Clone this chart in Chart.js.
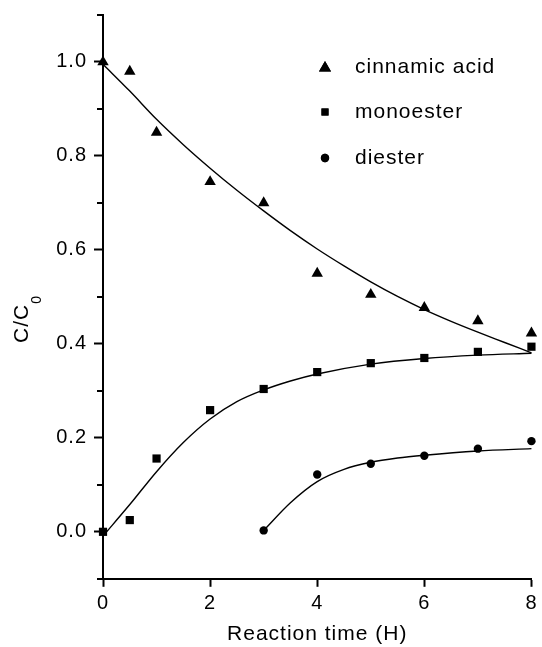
<!DOCTYPE html>
<html>
<head>
<meta charset="utf-8">
<script src="https://cdn.jsdelivr.net/npm/chart.js@4.4.1/dist/chart.umd.min.js"></script>
<style>
html, body { margin: 0; padding: 0; background: #fff; }
</style>
</head>
<body>
<canvas id="chart" width="542" height="647"></canvas>
<script>
// measured points
var timeH = [0, 0.5, 1, 2, 3, 4, 5, 6, 7, 8];
var cinnamicAcid = [1.0, 0.98, 0.85, 0.745, 0.70, 0.55, 0.505, 0.477, 0.449, 0.423];
var monoester = [0.0, 0.025, 0.156, 0.259, 0.304, 0.340, 0.359, 0.370, 0.383, 0.394];
var diesterTime = [3, 4, 5, 6, 7, 8];
var diester = [0.003, 0.122, 0.145, 0.162, 0.177, 0.193];

// fitted curves
var fitTime = [0, 0.5, 1, 1.5, 2, 2.5, 3, 3.5, 4, 4.5, 5, 5.5, 6, 6.5, 7, 7.5, 8];
var cinnamicFit = [0.995, 0.938, 0.878, 0.824, 0.774, 0.727, 0.683, 0.641, 0.602, 0.566, 0.532, 0.501, 0.473, 0.448, 0.425, 0.403, 0.381];
var monoFitTime = [0, 0.5, 1, 1.5, 2, 2.5, 3, 3.5, 4, 5, 6, 7, 8];
var monoFit = [-0.009, 0.058, 0.128, 0.190, 0.240, 0.277, 0.302, 0.321, 0.336, 0.357, 0.369, 0.376, 0.380];
var diFitTime = [3, 3.5, 4, 4.5, 5, 5.5, 6, 7, 8];
var diFit = [0.003, 0.062, 0.107, 0.133, 0.148, 0.157, 0.163, 0.172, 0.177];

var seriesNames = ['cinnamic acid', 'monoester', 'diester'];
var yTitle = 'C/C';
var yTitleSub = '0';
var xTitle = 'Reaction time (H)';

var FONT = '"Liberation Sans", Arial, sans-serif';

function pts(xs, ys) {
    return xs.map(function(x, i) { return { x: x, y: ys[i] }; });
}

function markerSet(label, xs, ys, style, radius) {
    return {
        label: label,
        data: pts(xs, ys),
        showLine: false,
        pointStyle: style,
        pointRadius: radius,
        pointBackgroundColor: '#000',
        pointBorderColor: '#000',
        pointBorderWidth: 0,
        clip: false
    };
}

function fitSet(xs, ys) {
    return {
        label: 'fit',
        data: pts(xs, ys),
        showLine: true,
        pointRadius: 0,
        borderColor: '#000',
        borderWidth: 1.4,
        cubicInterpolationMode: 'monotone',
        clip: false
    };
}

var textPlugin = {
    id: 'sideText',
    beforeDraw: function(chart) {
        chart.ctx.letterSpacing = '1px';
    },
    afterDraw: function(chart) {
        var ctx = chart.ctx;
        ctx.save();
        ctx.fillStyle = '#000';
        ctx.strokeStyle = '#000';
        ctx.letterSpacing = '1px';

        // y title with subscript
        ctx.translate(28, 343);
        ctx.rotate(-Math.PI / 2);
        ctx.font = '21px ' + FONT;
        ctx.textBaseline = 'alphabetic';
        ctx.textAlign = 'left';
        ctx.fillText(yTitle, 0, 0);
        var w = ctx.measureText(yTitle).width;
        ctx.font = '14px ' + FONT;
        ctx.fillText(yTitleSub, w, 13);
        ctx.setTransform(1, 0, 0, 1, 0, 0);

        // minor y ticks
        var ys = chart.scales.y;
        ctx.lineWidth = 2;
        [-0.1, 0.1, 0.3, 0.5, 0.7, 0.9, 1.1].forEach(function(v) {
            var py = Math.round(ys.getPixelForValue(v));
            ctx.beginPath();
            ctx.moveTo(ys.right - 6, py);
            ctx.lineTo(ys.right, py);
            ctx.stroke();
        });

        // legend
        var styles = [['triangle', 7], ['rect', 5], ['circle', 4.2]];
        var rowY = [67, 112, 158];
        ctx.font = '21px ' + FONT;
        ctx.textBaseline = 'middle';
        seriesNames.forEach(function(name, i) {
            Chart.helpers.drawPoint(ctx, {
                pointStyle: styles[i][0], radius: styles[i][1], rotation: 0, borderWidth: 0
            }, 325, rowY[i] + (i === 0 ? 1 : 0));
            ctx.fill();
            ctx.fillText(name, 355, rowY[i]);
        });
        ctx.restore();
    }
};

var chart = new Chart(document.getElementById('chart'), {
    type: 'scatter',
    data: {
        datasets: [
            fitSet(fitTime, cinnamicFit),
            fitSet(monoFitTime, monoFit),
            fitSet(diFitTime, diFit),
            markerSet(seriesNames[0], timeH, cinnamicAcid, 'triangle', 6.6),
            markerSet(seriesNames[1], timeH, monoester, 'rect', 5.8),
            markerSet(seriesNames[2], diesterTime, diester, 'circle', 4.2)
        ]
    },
    options: {
        responsive: false,
        animation: false,
        events: [],
        layout: { padding: { top: 15, right: 7, left: 0, bottom: 0 } },
        plugins: {
            legend: { display: false },
            tooltip: { enabled: false }
        },
        scales: {
            x: {
                type: 'linear',
                min: 0,
                max: 8,
                ticks: { stepSize: 2, color: '#000', font: { size: 20, family: FONT }, padding: 5 },
                grid: { drawOnChartArea: false, drawTicks: true, tickLength: 8, tickWidth: 2, tickColor: '#000' },
                border: { display: true, color: '#000', width: 2 },
                title: { display: true, text: xTitle, color: '#000', font: { size: 21, family: FONT }, padding: { top: 1, bottom: 0 } }
            },
            y: {
                type: 'linear',
                min: -0.1,
                max: 1.1,
                afterFit: function(s) {
                    s.width = 103;
                    s.paddingTop = 0;
                    s.paddingBottom = 0;
                },
                ticks: {
                    stepSize: 0.1,
                    autoSkip: false,
                    color: '#000',
                    font: { size: 20, family: FONT },
                    padding: 7,
                    callback: function(v) {
                        var k = Math.round(v * 10);
                        return (k % 2 === 0 && k >= 0 && k <= 10) ? (k / 10).toFixed(1) : '';
                    }
                },
                grid: {
                    drawOnChartArea: false,
                    drawTicks: true,
                    tickLength: 9,
                    tickWidth: 2,
                    tickColor: function(c) {
                        var k = Math.round(c.tick.value * 10);
                        return (k % 2 === 0 && k >= 0 && k <= 10) ? '#000' : 'rgba(0,0,0,0)';
                    }
                },
                border: { display: true, color: '#000', width: 2 }
            }
        }
    },
    plugins: [textPlugin]
});
</script>
</body>
</html>
